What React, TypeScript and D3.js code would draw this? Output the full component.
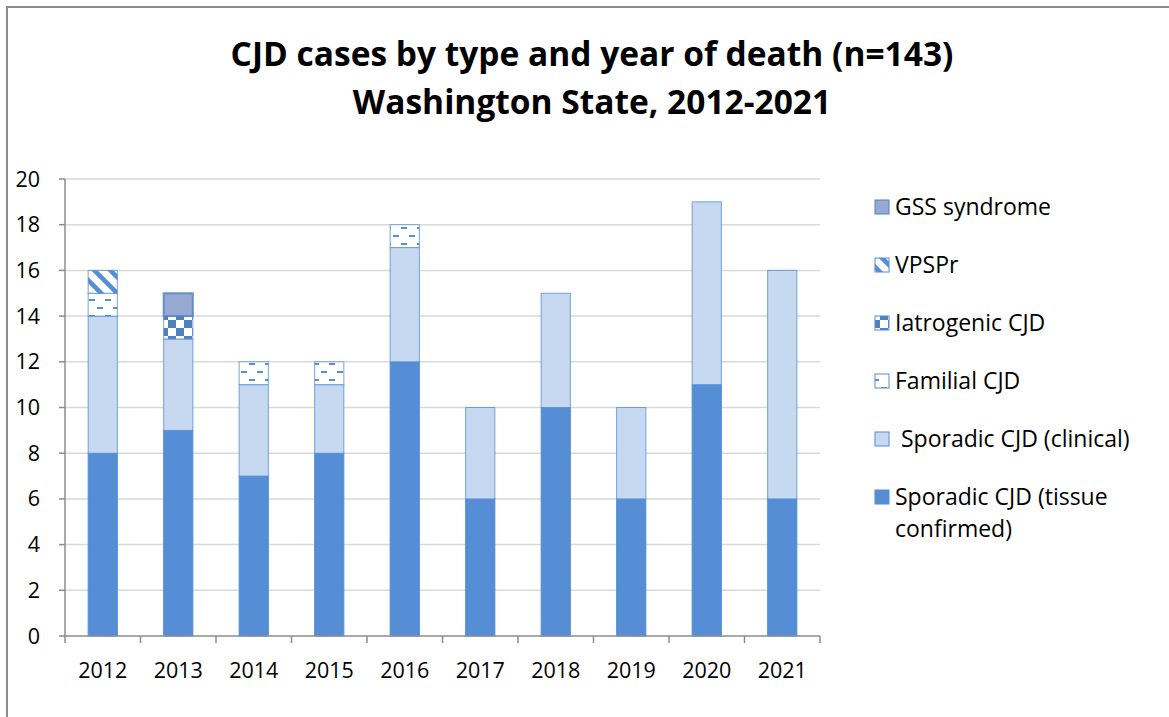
import * as d3 from 'd3'

const years = ['2012', '2013', '2014', '2015', '2016', '2017', '2018', '2019', '2020', '2021']
const tissue = [8, 9, 7, 8, 12, 6, 10, 6, 11, 6]
const clinical = [6, 4, 4, 3, 5, 4, 5, 4, 8, 10]
const familial = [1, 0, 1, 1, 1, 0, 0, 0, 0, 0]
const iatrogenic = [0, 1, 0, 0, 0, 0, 0, 0, 0, 0]
const vpspr = [1, 0, 0, 0, 0, 0, 0, 0, 0, 0]
const gss = [0, 1, 0, 0, 0, 0, 0, 0, 0, 0]
const yTicks = [0, 2, 4, 6, 8, 10, 12, 14, 16, 18, 20]

const series = [
  { key: 'tissue', label: ['Sporadic CJD (tissue', 'confirmed)'], values: tissue, fill: '#558ed5', stroke: '#558ed5' },
  { key: 'clinical', label: [' Sporadic CJD (clinical)'], values: clinical, fill: '#c6d9f1', stroke: '#558ed5' },
  { key: 'familial', label: ['Familial CJD'], values: familial, fill: 'url(#pFam)', stroke: '#558ed5' },
  { key: 'iatrogenic', label: ['Iatrogenic CJD'], values: iatrogenic, fill: 'url(#pIat)', stroke: '#558ed5' },
  { key: 'vpspr', label: ['VPSPr'], values: vpspr, fill: 'url(#pVps)', stroke: '#558ed5' },
  { key: 'gss', label: ['GSS syndrome'], values: gss, fill: '#95a9d3', stroke: '#4f81bd' },
]

const font = 'Open Sans, sans-serif'

export default function App() {
  const W = 1169
  const H = 717
  const left = 65
  const right = 820
  const top = 179
  const bottom = 636

  const x = d3.scaleBand().domain(years).range([left, right]).paddingInner(0.6).paddingOuter(0.3)
  const xb = d3.scaleBand().domain(years).range([left, right])
  const y = d3.scaleLinear().domain([0, 20]).range([bottom, top])

  const stack = d3.stack<number>().keys(series.map((_, i) => String(i))).value((d, k) => series[+k].values[d])
  const layers = stack(years.map((_, i) => i))

  const legendItems = [...series].reverse()

  return (
    <svg width={W} height={H} style={{ position: 'absolute', left: 0, top: 0 }}>
      <defs>
        <pattern id="pFam" width="16" height="16" patternUnits="userSpaceOnUse">
          <rect width="16" height="16" fill="#fff" />
          <rect x="1" y="3" width="6" height="2" fill="#558ed5" />
          <rect x="9" y="11" width="6" height="2" fill="#558ed5" />
        </pattern>
        <pattern id="pIat" width="16" height="16" patternUnits="userSpaceOnUse">
          <rect width="16" height="16" fill="#fff" />
          <rect x="8" y="0" width="8" height="8" fill="#4f81bd" />
          <rect x="0" y="8" width="8" height="8" fill="#4f81bd" />
        </pattern>
        <pattern id="pVps" width="16" height="16" patternUnits="userSpaceOnUse">
          <rect width="16" height="16" fill="#fff" />
          <path d="M-4,-4 L20,20 M-4,12 L4,20 M12,-4 L20,4" stroke="#558ed5" strokeWidth="4.5" />
        </pattern>
      </defs>
      <rect x={0} y={0} width={W} height={H} fill="#fff" />
      <path d={`M7,${H} V7 H${W}`} fill="none" stroke="#8c8c8c" strokeWidth={2} />

      <text x={592} y={66} textAnchor="middle" fontFamily={font} fontWeight="bold" fontSize={33.5} fill="#000">
        CJD cases by type and year of death (n=143)
      </text>
      <text x={592} y={114} textAnchor="middle" fontFamily={font} fontWeight="bold" fontSize={33.5} fill="#000">
        Washington State, 2012-2021
      </text>

      {yTicks.map(t => (
        <g key={t}>
          {t > 0 && <line x1={left} x2={right} y1={y(t)} y2={y(t)} stroke="#d9d9d9" strokeWidth={1.5} />}
          <line x1={left - 6} x2={left} y1={y(t)} y2={y(t)} stroke="#8c8c8c" strokeWidth={1.5} />
          <text x={40} y={y(t)} dy="0.35em" textAnchor="end" fontFamily={font} fontSize={21.5} fill="#000">{t}</text>
        </g>
      ))}

      {layers.map((layer, si) => (
        <g key={si}>
          {layer.map((d, i) =>
            d[1] > d[0] ? (
              <rect
                key={i}
                x={x(years[i])! + 0.5}
                y={y(d[1])}
                width={x.bandwidth() - 1}
                height={y(d[0]) - y(d[1])}
                fill={series[si].fill}
                stroke={series[si].stroke}
                strokeWidth={si === 5 ? 2 : 1}
                strokeOpacity={si === 0 ? 1 : 0.8}
              />
            ) : null
          )}
        </g>
      ))}

      <line x1={left} x2={left} y1={top} y2={bottom} stroke="#8c8c8c" strokeWidth={1.5} />
      <line x1={left} x2={right} y1={bottom} y2={bottom} stroke="#8c8c8c" strokeWidth={1.5} />
      {years.map(yr => (
        <line key={yr} x1={xb(yr)!} x2={xb(yr)!} y1={bottom} y2={bottom + 7} stroke="#8c8c8c" strokeWidth={1.5} />
      ))}
      <line x1={right} x2={right} y1={bottom} y2={bottom + 7} stroke="#8c8c8c" strokeWidth={1.5} />
      {years.map(yr => (
        <text key={yr} x={xb(yr)! + xb.bandwidth() / 2} y={678} textAnchor="middle" fontFamily={font} fontSize={21.5} fill="#000">
          {yr}
        </text>
      ))}

      {legendItems.map((s, i) => {
        const ly = 207 + i * 58
        return (
          <g key={s.key}>
            <rect x={875} y={ly - 7} width={14} height={14} fill={s.fill} stroke={s.stroke} strokeWidth={1} />
            {s.label.map((l, j) => (
              <text key={j} x={895} y={ly + j * 32} dy="0.35em" fontFamily={font} fontSize={23} fill="#000" style={{ whiteSpace: 'pre' }}>
                {l}
              </text>
            ))}
          </g>
        )
      })}
    </svg>
  )
}
